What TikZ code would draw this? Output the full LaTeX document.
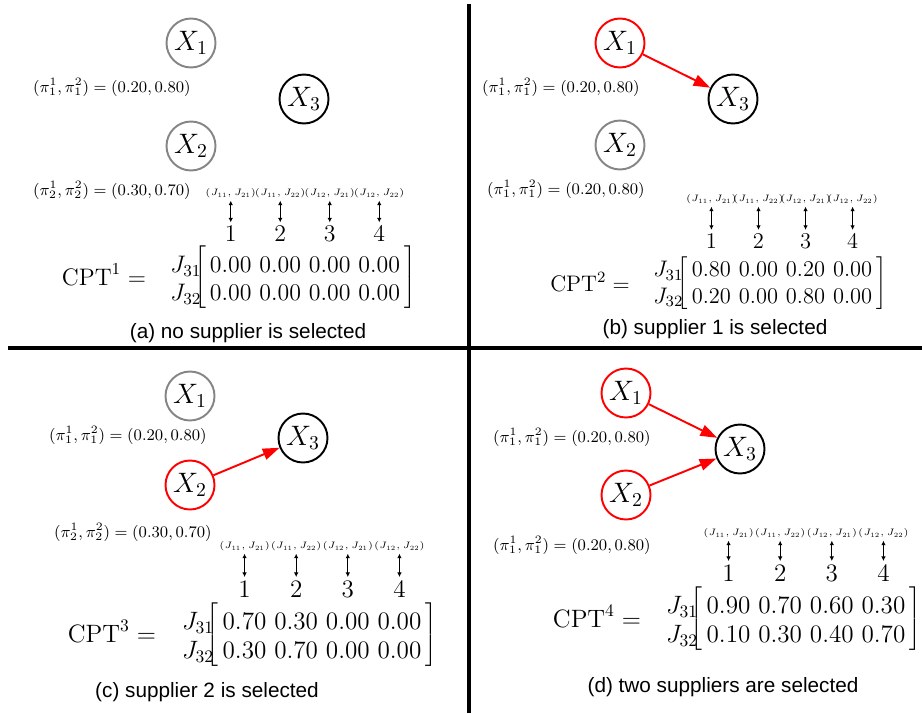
\RequirePackage{fix-cm}
\documentclass[tikz,border=0pt]{standalone}
\usepackage{fontspec}
\newfontfamily\capfont{Liberation Sans}
\usetikzlibrary{arrows.meta,matrix,positioning}

\tikzset{
  var/.style={circle, draw, line width=1.1pt, minimum size=0.98cm, inner sep=0pt,
              font=\fontsize{16}{19}\selectfont},
  idle/.style={var, draw=black!48},
  chosen/.style={var, draw=red},
  sink/.style={var, draw=black},
  prior/.style={anchor=east, inner sep=0pt, font=\fontsize{9.2}{11}\selectfont},
  pairlab/.style={inner sep=0.5pt, font=\fontsize{5.3}{6.5}\selectfont},
  colnum/.style={inner sep=1pt},
  sizeA/.style={font=\fontsize{13.6}{16}\selectfont},
  sizeB/.style={font=\fontsize{12.8}{15}\selectfont},
  sizeC/.style={font=\fontsize{14.3}{17}\selectfont},
  cpt/.style={matrix of math nodes, inner xsep=0pt, inner ysep=3.5pt,
              column sep=2.5pt, row sep=4.9pt,
              left delimiter={[}, right delimiter={]}, nodes={inner sep=1pt},
              every left delimiter/.style={xshift=2.5pt},
              every right delimiter/.style={xshift=-2.5pt}},
  link/.style={-{Triangle[length=9.5pt,width=6.5pt]}, red, line width=1.1pt},
  duplex/.style={{Latex[length=2.6pt,width=2.6pt]}-{Latex[length=2.6pt,width=2.6pt]},
                 line width=0.6pt, shorten <=1pt, shorten >=1pt},
  subcap/.style={font=\fontsize{11.8}{14}\selectfont\capfont},
  divider/.style={line width=2.4pt}
}

\begin{document}
\begin{tikzpicture}[x=0.02cm, y=-0.02cm]
  \useasboundingbox (0,0) rectangle (922,713);

  % dividers
  \draw[divider] (8,348) -- (922,348);
  \draw[divider] (469,4) -- (469,713);

  % (a) no supplier
  \node[idle] (a1) at (191,43) {$X_1$};
  \node[idle] (a2) at (191,146) {$X_2$};
  \node[sink] (a3) at (304,99) {$X_3$};
  \node[prior] (pa1) at (191,87) {$(\pi_1^1,\pi_1^2)=(0.20,0.80)$};
  \node[prior] (pa2) at (191,190) {$(\pi_2^1,\pi_2^2)=(0.30,0.70)$};
  \matrix[cpt, nodes={sizeA}] (cptA) at (305,279) {
    0.00 & 0.00 & 0.00 & 0.00 \\
    0.00 & 0.00 & 0.00 & 0.00 \\
  };
  \node[sizeA, anchor=base east, inner sep=0pt] (ja1) at ([xshift=-3.5pt]cptA-1-1.base west) {$J_{31}$};
  \node[sizeA, anchor=base east, inner sep=0pt] (ja2) at ([xshift=-3.5pt]cptA-2-1.base west) {$J_{32}$};
  \node[sizeA] (cpa) at (104,275) {$\mathrm{CPT}^1=$};
  \foreach \j/\pr in {1/{J_{11},J_{21}},2/{J_{11},J_{22}},3/{J_{12},J_{21}},4/{J_{12},J_{22}}} {
    \node[colnum, sizeA] (na\j) at (cptA-1-\j |- 0,234) {$\j$};
    \node[pairlab] (ha\j) at (cptA-1-\j |- 0,193) {$(\pr)$};
    \draw[duplex] (ha\j) -- (na\j);
  }
  \node[subcap] (capa) at (248,333) {(a) no supplier is selected};

  % (b) supplier 1
  \node[chosen] (b1) at (620,43) {$X_1$};
  \node[idle] (b2) at (620,145) {$X_2$};
  \node[sink] (b3) at (733,99) {$X_3$};
  \draw[link] (b1) -- (b3);
  \node[prior] (pb1) at (640,87) {$(\pi_1^1,\pi_1^2)=(0.20,0.80)$};
  \node[prior] (pb2) at (645,189) {$(\pi_1^1,\pi_1^2)=(0.20,0.80)$};
  \matrix[cpt, nodes={sizeB}] (cptB) at (782,283) {
    0.80 & 0.00 & 0.20 & 0.00 \\
    0.20 & 0.00 & 0.80 & 0.00 \\
  };
  \node[sizeB, anchor=base east, inner sep=0pt] (jb1) at ([xshift=-3.5pt]cptB-1-1.base west) {$J_{31}$};
  \node[sizeB, anchor=base east, inner sep=0pt] (jb2) at ([xshift=-3.5pt]cptB-2-1.base west) {$J_{32}$};
  \node[sizeB] (cpb) at (590,282) {$\mathrm{CPT}^2=$};
  \foreach \j/\pr in {1/{J_{11},J_{21}},2/{J_{11},J_{22}},3/{J_{12},J_{21}},4/{J_{12},J_{22}}} {
    \node[colnum, sizeB] (nb\j) at (cptB-1-\j |- 0,241) {$\j$};
    \node[pairlab] (hb\j) at (cptB-1-\j |- 0,199) {$(\pr)$};
    \draw[duplex] (hb\j) -- (nb\j);
  }
  \node[subcap] (capb) at (715,329) {(b) supplier 1 is selected};

  % (c) supplier 2
  \node[idle] (c1) at (190,396) {$X_1$};
  \node[chosen] (c2) at (190,485) {$X_2$};
  \node[sink] (c3) at (303,438) {$X_3$};
  \draw[link] (c2) -- (c3);
  \node[prior] (pc1) at (207,435) {$(\pi_1^1,\pi_1^2)=(0.20,0.80)$};
  \node[prior] (pc2) at (212,532) {$(\pi_2^1,\pi_2^2)=(0.30,0.70)$};
  \matrix[cpt, nodes={sizeC}] (cptC) at (322,636) {
    0.70 & 0.30 & 0.00 & 0.00 \\
    0.30 & 0.70 & 0.00 & 0.00 \\
  };
  \node[sizeC, anchor=base east, inner sep=0pt] (jc1) at ([xshift=-3.5pt]cptC-1-1.base west) {$J_{31}$};
  \node[sizeC, anchor=base east, inner sep=0pt] (jc2) at ([xshift=-3.5pt]cptC-2-1.base west) {$J_{32}$};
  \node[sizeC] (cpc) at (112,632) {$\mathrm{CPT}^3=$};
  \foreach \j/\pr in {1/{J_{11},J_{21}},2/{J_{11},J_{22}},3/{J_{12},J_{21}},4/{J_{12},J_{22}}} {
    \node[colnum, sizeC] (nc\j) at (cptC-1-\j |- 0,589) {$\j$};
    \node[pairlab] (hc\j) at (cptC-1-\j |- 0,546) {$(\pr)$};
    \draw[duplex] (hc\j) -- (nc\j);
  }
  \node[subcap] (capc) at (207,692) {(c) supplier 2 is selected};

  % (d) both suppliers
  \node[chosen] (d1) at (626,393) {$X_1$};
  \node[chosen] (d2) at (626,495) {$X_2$};
  \node[sink] (d3) at (740,449) {$X_3$};
  \draw[link] (d1) -- (d3);
  \draw[link] (d2) -- (d3);
  \node[prior] (pd1) at (651,437) {$(\pi_1^1,\pi_1^2)=(0.20,0.80)$};
  \node[prior] (pd2) at (651,545) {$(\pi_1^1,\pi_1^2)=(0.20,0.80)$};
  \matrix[cpt, nodes={sizeC}] (cptD) at (806,620) {
    0.90 & 0.70 & 0.60 & 0.30 \\
    0.10 & 0.30 & 0.40 & 0.70 \\
  };
  \node[sizeC, anchor=base east, inner sep=0pt] (jd1) at ([xshift=-3.5pt]cptD-1-1.base west) {$J_{31}$};
  \node[sizeC, anchor=base east, inner sep=0pt] (jd2) at ([xshift=-3.5pt]cptD-2-1.base west) {$J_{32}$};
  \node[sizeC] (cpd) at (597,617) {$\mathrm{CPT}^4=$};
  \foreach \j/\pr in {1/{J_{11},J_{21}},2/{J_{11},J_{22}},3/{J_{12},J_{21}},4/{J_{12},J_{22}}} {
    \node[colnum, sizeC] (nd\j) at (cptD-1-\j |- 0,573) {$\j$};
    \node[pairlab] (hd\j) at (cptD-1-\j |- 0,533) {$(\pr)$};
    \draw[duplex] (hd\j) -- (nd\j);
  }
  \node[subcap] (capd) at (723,687) {(d) two suppliers are selected};
\end{tikzpicture}
\end{document}
